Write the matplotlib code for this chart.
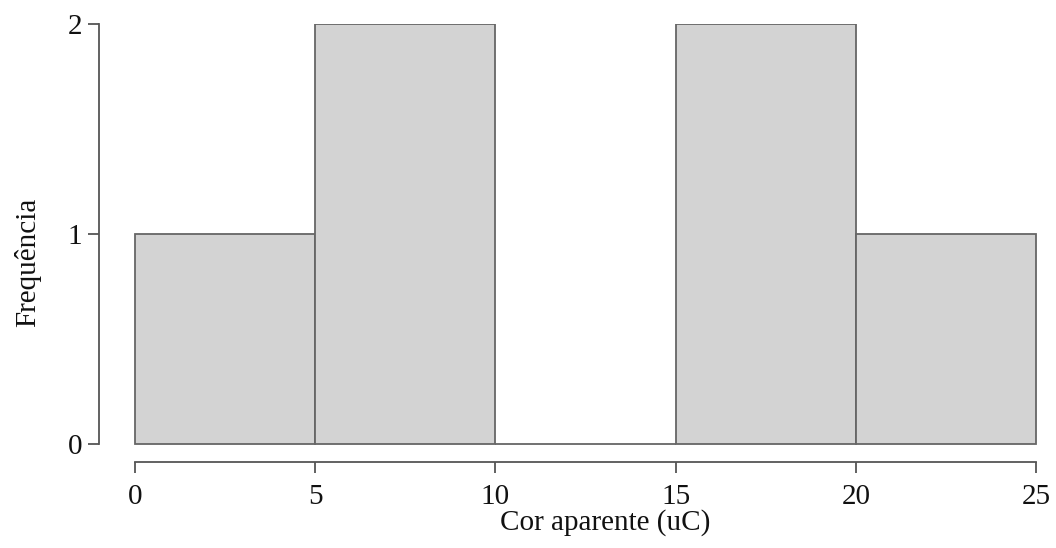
import matplotlib
matplotlib.use("Agg")
import matplotlib.pyplot as plt
import numpy as np

# histogram data (bin edges and counts)
edges = [0, 5, 10, 15, 20, 25]
counts = [1, 2, 0, 2, 1]
xticks = [0, 5, 10, 15, 20, 25]
yticks = [0, 1, 2]

plt.rcParams['font.family'] = ['Liberation Serif', 'DejaVu Serif']

fig = plt.figure(figsize=(10.56, 5.48), dpi=100)
ax = fig.add_axes([99/1056, 86/548, (1040-99)/1056, (524-86)/548])

widths = np.diff(edges)
ax.bar(edges[:-1], counts, width=widths, align='edge',
       color='#d3d3d3', edgecolor='#666666', linewidth=1.3)

ax.set_xlim(-1, 25 + 4/36.04)
ax.set_ylim(-0.0857, 2.0)

for s in ['top', 'right']:
    ax.spines[s].set_visible(False)
ax.spines['left'].set_bounds(0, 2)
ax.spines['bottom'].set_bounds(0, 25)
for s in ['left', 'bottom']:
    ax.spines[s].set_color('#555555')
    ax.spines[s].set_linewidth(1.3)

ax.set_xticks(xticks)
ax.set_yticks(yticks)
ax.tick_params(axis='both', length=8, width=1.3, color='#555555',
               labelsize=21, labelcolor='#111111')
ax.tick_params(axis='x', pad=8)
ax.tick_params(axis='y', pad=4)

ax.set_xlabel('Cor aparente (uC)', fontsize=21, color='#111111')
ax.set_ylabel('Frequência', fontsize=21, color='#111111')
ax.xaxis.set_label_coords(0.538, -0.108)
ax.yaxis.set_label_coords(-0.061, 0.457)

fig.savefig('out.png', dpi=100)
